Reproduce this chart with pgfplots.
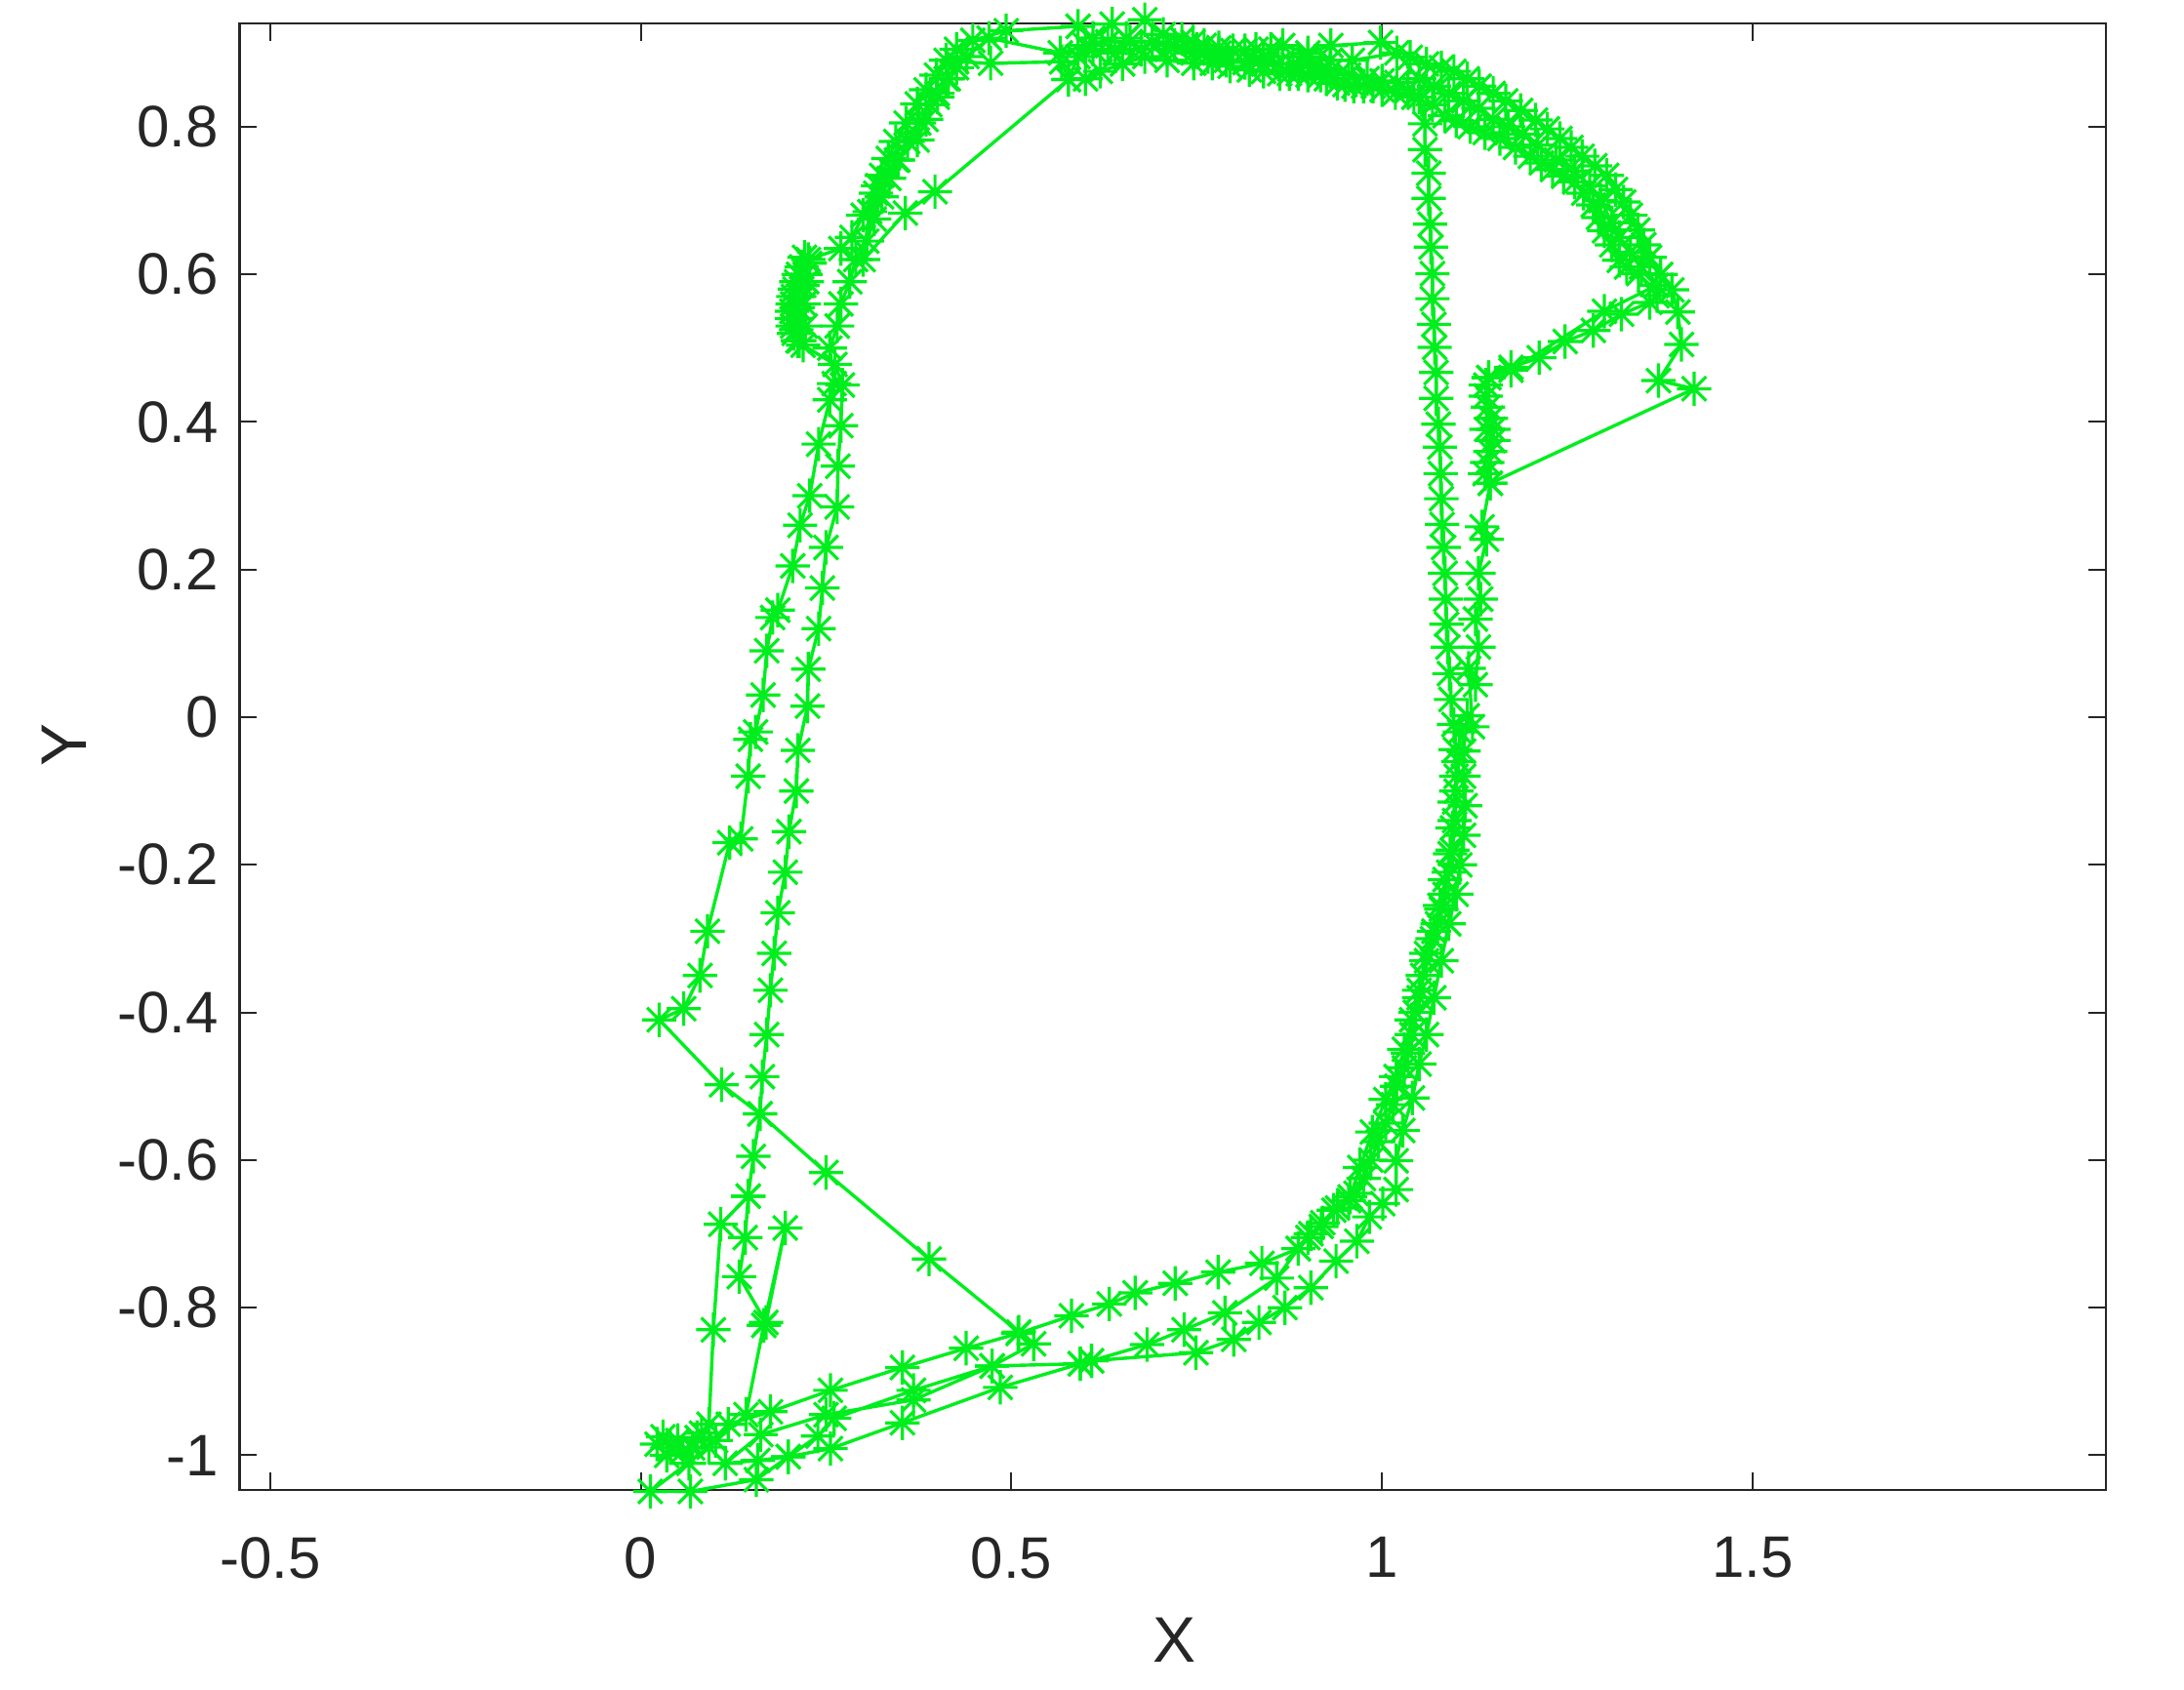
\documentclass[border=0pt]{standalone}
\usepackage{fontspec}
\setmainfont{Liberation Sans}
\usepackage{pgfplots}
\pgfplotsset{compat=1.18}
\definecolor{traj}{RGB}{0,238,30}
\definecolor{axtxt}{RGB}{38,38,38}
\pgfdeclareplotmark{star8}{%
  \pgfsetlinewidth{0.8pt}%
  \pgfpathmoveto{\pgfqpoint{-4.4pt}{0pt}}\pgfpathlineto{\pgfqpoint{4.4pt}{0pt}}%
  \pgfpathmoveto{\pgfqpoint{0pt}{-4.4pt}}\pgfpathlineto{\pgfqpoint{0pt}{4.4pt}}%
  \pgfpathmoveto{\pgfqpoint{-3.1pt}{-3.1pt}}\pgfpathlineto{\pgfqpoint{3.1pt}{3.1pt}}%
  \pgfpathmoveto{\pgfqpoint{-3.1pt}{3.1pt}}\pgfpathlineto{\pgfqpoint{3.1pt}{-3.1pt}}%
  \pgfusepathqstroke}
\begin{document}
\begin{tikzpicture}[x=1pt,y=1pt]
\useasboundingbox (-61.4,-51.25) rectangle (498.1,381.75);
\begin{axis}[
  at={(0pt,0pt)},anchor=south west,
  width=478pt,height=375.75pt,scale only axis,
  xmin=-0.541,xmax=1.976,ymin=-1.047,ymax=0.94,
  clip=false,
  axis line style={line width=0.55pt,color=black!85},
  tick style={line width=0.5pt,color=black!85},
  tick align=inside,major tick length=4.4pt,
  xtick={-0.5,0,0.5,1,1.5},
  xticklabels={-0.5,0,0.5,1,1.5},
  ytick={-1,-0.8,-0.6,-0.4,-0.2,0,0.2,0.4,0.6,0.8},
  yticklabels={-1,-0.8,-0.6,-0.4,-0.2,0,0.2,0.4,0.6,0.8},
  tick label style={font=\fontsize{15}{17}\selectfont,text=axtxt},
  xticklabel style={yshift=-8.5pt},
  yticklabel style={xshift=-2pt},
  xlabel={X},ylabel={Y},
  label style={font=\fontsize{16.5}{18}\selectfont,text=axtxt},
  xlabel style={at={(axis description cs:0.501,0)},anchor=center,yshift=-38.5pt},
  ylabel style={at={(axis description cs:0,0.508)},anchor=center,yshift=45pt},
]
\addplot[color=traj,line width=0.85pt,mark=star8,mark options={color=traj,solid}] table[row sep=\\] {
x y\\
.145 -.649\\ .152 -.595\\ .161 -.5375\\ .164 -.487\\ .170 -.43\\ .175 -.37\\ .180 -.32\\ .185 -.265\\ .195 -.21\\ .200 -.155\\ .210 -.10\\ .212 -.045\\ .225 .015\\ .226 .065\\ .240 .12\\ .245 .175\\ .250 .23\\ .265 .285\\ .266 .34\\ .270 .395\\ .272 .45\\ .262 .478\\
.219 .504\\ .212 .51\\ .207 .52\\ .205 .53\\ .204 .54\\ .204 .55\\ .205 .56\\ .206 .57\\ .208 .58\\ .210 .59\\ .213 .60\\ .217 .61\\ .221 .623\\ .228 .615\\ .222 .60\\ .218 .585\\ .214 .57\\ .212 .555\\ .210 .54\\ .210 .525\\ .214 .51\\ .222 .53\\ .220 .56\\ .224 .59\\ .226 .62\\ .270 .635\\ .285 .65\\ .300 .68\\ .320 .72\\ .345 .755\\ .373 .782\\ .385 .81\\ .400 .84\\ .415 .865\\ .426 .888\\ .472 .886\\ .568 .888\\ .577 .864\\ .397 .712\\ .357 .683\\ .300 .62\\
.309 .685\\ .317 .71\\ .325 .734\\ .334 .757\\ .344 .78\\ .358 .805\\ .373 .831\\ .385 .85\\ .399 .87\\ .412 .89\\ .426 .905\\ .448 .917\\ .493 .930\\ .590 .936\\ .610 .92\\ .636 .939\\ .655 .92\\ .680 .945\\ .705 .925\\ .730 .919\\ .745 .915\\ .760 .91\\ .780 .907\\ .799 .903\\ .815 .903\\ .830 .905\\ .850 .905\\ .866 .91\\ .900 .90\\ .931 .91\\ .998 .914\\ 1.038 .894\\ 1.060 .885\\ 1.080 .88\\ 1.097 .875\\ 1.115 .865\\ 1.131 .855\\ 1.150 .845\\ 1.167 .835\\ 1.187 .822\\ 1.207 .809\\ 1.223 .797\\ 1.240 .784\\ 1.255 .772\\ 1.270 .76\\ 1.287 .747\\ 1.303 .734\\ 1.315 .715\\ 1.326 .698\\ 1.335 .68\\ 1.345 .66\\ 1.353 .64\\ 1.361 .623\\ 1.376 .60\\ 1.391 .579\\ 1.399 .549\\ 1.404 .505\\ 1.373 .456\\ 1.421 .445\\
1.146 .317\\ 1.139 .33\\ 1.142 .345\\ 1.146 .36\\ 1.150 .375\\ 1.150 .39\\ 1.147 .405\\ 1.143 .42\\ 1.140 .435\\ 1.140 .45\\ 1.144 .46\\ 1.174 .474\\ 1.212 .487\\ 1.247 .509\\ 1.285 .524\\ 1.323 .546\\ 1.361 .562\\ 1.371 .571\\ 1.346 .601\\ 1.33 .61\\ 1.320 .619\\ 1.31 .64\\ 1.300 .659\\ 1.292 .677\\ 1.285 .694\\ 1.272 .71\\ 1.260 .725\\ 1.245 .733\\ 1.230 .742\\ 1.215 .751\\ 1.200 .76\\ 1.18 .772\\ 1.159 .784\\ 1.139 .792\\ 1.119 .80\\ 1.10 .808\\ 1.085 .815\\ 1.068 .83\\ 1.043 .84\\ 1.018 .846\\ 1.0 .85\\ .988 .855\\ .975 .855\\ .962 .855\\ .950 .857\\ .940 .859\\ .925 .865\\ .917 .87\\ .900 .87\\ .887 .872\\ .875 .872\\ .862 .872\\ .840 .875\\ .821 .877\\ .795 .882\\ .771 .886\\ .746 .886\\ .710 .89\\ .680 .895\\ .650 .885\\ .620 .875\\ .600 .865\\ .577 .864\\ .590 .895\\ .610 .905\\ .640 .90\\ .675 .905\\ .710 .905\\ .745 .90\\ .765 .895\\ .790 .89\\ .815 .887\\ .840 .885\\ .860 .885\\ .880 .885\\ .905 .88\\ .930 .875\\ .955 .87\\ .980 .865\\ 1.0 .862\\ 1.020 .86\\ 1.035 .85\\ 1.050 .84\\
1.058 .804\\ 1.058 .769\\ 1.063 .737\\ 1.063 .703\\ 1.065 .668\\ 1.066 .637\\ 1.068 .601\\ 1.068 .567\\ 1.070 .532\\ 1.071 .501\\ 1.073 .467\\ 1.073 .432\\ 1.076 .397\\ 1.078 .366\\ 1.079 .33\\ 1.080 .296\\ 1.081 .261\\ 1.083 .23\\ 1.085 .195\\ 1.086 .16\\ 1.087 .126\\ 1.089 .095\\ 1.091 .059\\ 1.093 .024\\ 1.097 -.01\\ 1.099 -.044\\ 1.100 -.08\\ 1.098 -.115\\ 1.095 -.15\\ 1.092 -.185\\ 1.085 -.22\\ 1.078 -.255\\ 1.070 -.29\\ 1.060 -.33\\ 1.050 -.37\\ 1.040 -.41\\ 1.030 -.45\\ 1.019 -.487\\ 1.005 -.518\\ .987 -.562\\ .970 -.61\\ .957 -.65\\ .935 -.668\\ .918 -.69\\ .904 -.70\\ .887 -.72\\ .838 -.74\\ .779 -.752\\ .721 -.767\\ .667 -.78\\ .632 -.795\\ .581 -.811\\ .509 -.835\\ .439 -.855\\ .353 -.881\\ .256 -.912\\ .175 -.941\\ .118 -.958\\
.101 -.98\\ .076 -.976\\ .057 -.994\\ .035 -1.0\\ .022 -.985\\ .030 -.975\\ .040 -.99\\ .050 -.98\\ .065 -1.011\\ .070 -.99\\ .082 -.97\\ .092 -.958\\ .098 -.83\\ .108 -.687\\ .145 -.649\\ .141 -.705\\ .133 -.758\\ .169 -.82\\ .195 -.692\\ .166 -.824\\ .142 -.945\\ .092 -.989\\ .013 -1.049\\ .067 -1.049\\ .156 -1.033\\ .199 -1.002\\ .256 -.991\\ .353 -.956\\ .485 -.908\\ .593 -.876\\ .608 -.872\\ .749 -.861\\ .800 -.843\\ .834 -.82\\ .869 -.80\\ .904 -.773\\ .938 -.737\\ .966 -.71\\ .983 -.677\\ 1.001 -.659\\ 1.019 -.64\\ 1.019 -.601\\ 1.028 -.56\\ 1.041 -.516\\ 1.050 -.47\\ 1.060 -.43\\ 1.070 -.38\\ 1.080 -.33\\ 1.090 -.28\\ 1.100 -.24\\ 1.105 -.20\\ 1.110 -.16\\ 1.112 -.12\\ 1.110 -.08\\ 1.110 -.046\\ 1.115 .002\\ 1.122 -.013\\ 1.117 .066\\ 1.126 .044\\ 1.130 .095\\ 1.126 .133\\ 1.133 .16\\ 1.130 .195\\ 1.141 .241\\ 1.135 .258\\ 1.146 .317\\ 1.141 .39\\ 1.144 .46\\ 1.174 .47\\ 1.30 .55\\ 1.37 .585\\ 1.35 .61\\ 1.335 .63\\ 1.32 .65\\ 1.31 .67\\ 1.295 .70\\ 1.28 .72\\ 1.26 .74\\ 1.235 .755\\ 1.21 .775\\ 1.19 .79\\ 1.17 .80\\ 1.15 .81\\ 1.13 .825\\ 1.11 .835\\ 1.09 .845\\ 1.07 .855\\ 1.05 .865\\ 1.02 .90\\ .96 .89\\ .93 .89\\ .90 .895\\ .84 .895\\ .78 .90\\ .75 .905\\ .72 .91\\ .69 .915\\ .66 .915\\ .63 .915\\ .60 .91\\ .566 .90\\ .47 .92\\ .44 .895\\ .426 .88\\ .412 .865\\ .40 .845\\ .39 .83\\ .375 .805\\ .36 .78\\ .347 .755\\ .335 .73\\ .325 .705\\ .315 .675\\ .305 .645\\ .29 .62\\ .282 .59\\ .27 .56\\ .265 .53\\ .255 .50\\
.261 .452\\ .255 .43\\ .240 .37\\ .228 .30\\ .215 .26\\ .205 .205\\ .185 .145\\ .178 .135\\ .170 .09\\ .165 .03\\ .155 -.02\\ .148 -.03\\ .145 -.08\\ .135 -.165\\ .120 -.17\\ .090 -.29\\ .080 -.35\\ .058 -.395\\ .025 -.41\\ .109 -.498\\ .161 -.5375\\ .25 -.617\\ .389 -.734\\ .510 -.833\\ .530 -.849\\ .474 -.879\\ .368 -.912\\ .261 -.95\\ .239 -.974\\ .199 -1.002\\ .158 -1.007\\ .114 -1.011\\ .162 -.972\\ .25 -.945\\ .368 -.925\\ .474 -.879\\ .593 -.876\\ .608 -.872\\ .683 -.85\\ .733 -.83\\ .788 -.807\\ .858 -.76\\ .887 -.72\\ .90 -.705\\ .92 -.685\\ .94 -.665\\ .955 -.655\\ .965 -.645\\ .975 -.625\\ .985 -.60\\ .995 -.575\\ 1.005 -.55\\ 1.015 -.525\\ 1.02 -.50\\ 1.03 -.475\\ 1.035 -.455\\ 1.04 -.43\\ 1.045 -.40\\ 1.05 -.38\\ 1.055 -.35\\ 1.06 -.32\\ 1.068 -.30\\ 1.075 -.28\\ 1.08 -.26\\ 1.085 -.24\\ 1.09 -.21\\ 1.095 -.18\\ 1.098 -.14\\ 1.10 -.10\\ 1.103 -.06\\ 1.105 -.02\\
};
\end{axis}
\end{tikzpicture}
\end{document}
